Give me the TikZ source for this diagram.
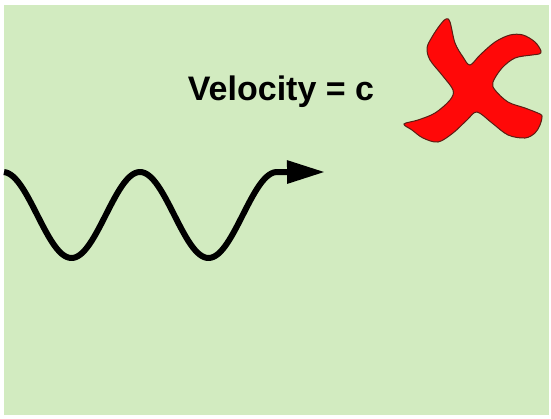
\documentclass[tikz,border=0pt]{standalone}
\usepackage{fontspec}
\setmainfont{Liberation Sans}
\usetikzlibrary{arrows.meta}
\definecolor{bggreen}{RGB}{210,235,192}
\definecolor{crossred}{RGB}{255,8,8}
\definecolor{crossedge}{RGB}{90,30,20}
\begin{document}
\begin{tikzpicture}[x=1pt, y=-1pt,
    wave/.style={line width=6pt, line join=round, -{Triangle[length=38pt,width=22pt]}},
    label/.style={font=\bfseries\fontsize{34}{38}\selectfont}]
    \useasboundingbox (0,0) rectangle (551,418);
    \fill[bggreen] (4,5) rectangle (549,415);
    % light wave
    \coordinate (tip) at (325,172);
    \draw[wave] plot[domain=4:278, samples=120] (\x, {215-43*cos(2.6277*(\x-3))}) -- (tip);
    \node[label] (velocity) at (281,92) {Velocity = c};
    % red cross
    \filldraw[fill=crossred, draw=crossedge, line width=1pt]
        plot[smooth cycle, tension=0.55] coordinates {
        (446,19) (450,22) (455,43) (463,57) (470,65)
        (480,55) (495,42) (510,35) (523,35) (535,42) (541,51) (539,54)
        (532,55) (515,58) (502,68) (493,82) (495,90)
        (508,102) (525,108) (540,114) (542,117) (540,125)
        (535,133) (525,138) (508,135) (492,123) (477,112)
        (467,120) (453,133) (438,142) (423,138) (412,130) (404,124)
        (418,120) (435,113) (450,100) (453,90)
        (442,75) (430,60) (427,48) (432,37) (440,25)};
\end{tikzpicture}
\end{document}
